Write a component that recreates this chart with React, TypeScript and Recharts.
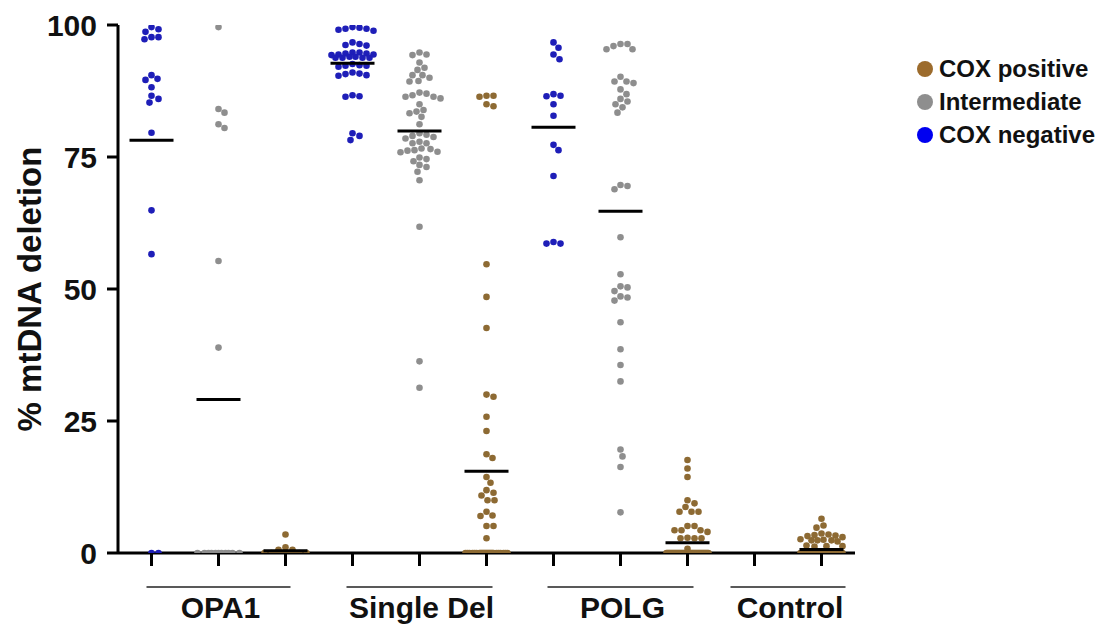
import React from 'react';
import { ScatterChart, Scatter, XAxis, YAxis, Legend } from 'recharts';

// ---- values (% mtDNA deletion per fibre) ----
const OPA1_NEG = [99.6, 99.2, 98.7, 97.7, 97.3, 97.7, 90.5, 89.6, 89.8, 88.2, 86.6, 86.0, 85.3, 79.6, 64.9, 56.6, 0, 0];
const OPA1_INT = [99.6, 84.1, 83.4, 81.2, 80.5, 55.3, 38.9, 0, 0, 0, 0, 0, 0, 0, 0, 0, 0, 0];
const OPA1_POS = [3.5, 1.1, 0.6, 0.6, 0, 0, 0, 0, 0, 0, 0, 0, 0, 0];

const SD_NEG = [
  99.6, 99.3, 98.9, 99.1, 99.3, 99.5, 96.7, 96.2, 96.1, 96.4,
  94.6, 94.8, 94.4, 94.4, 94.6, 94.8, 94.3, 93.8, 94.0, 93.8, 93.8, 94.0, 93.8,
  92.4, 92.3, 92.1, 92.3, 92.6, 91.0, 90.7, 90.4, 90.5, 90.8, 86.4, 86.5, 86.7, 79.5, 78.2, 79.0,
];
const SD_INT = [
  94.8, 94.4, 94.3, 92.9, 91.9, 91.5, 90.5, 90.0, 89.4, 89.3, 90.5, 86.7, 86.4, 87.2, 87.0, 86.1,
  86.4, 85.0, 83.6, 83.3, 83.9, 82.6, 81.2, 79.2, 79.0, 79.5, 78.8, 78.5, 77.6, 77.6, 77.9, 76.5,
  76.3, 76.0, 76.2, 76.6, 75.9, 74.6, 74.9, 74.2, 73.1, 73.5, 72.2, 70.6, 61.8, 36.3, 31.3,
];
const SD_POS = [
  86.6, 86.4, 86.6, 84.6, 85.0, 54.7, 48.5, 42.6, 29.6, 30.0, 25.8, 23.1, 18.7, 18.0, 14.4, 13.3,
  11.9, 10.9, 11.4, 10.0, 10.0, 7.1, 7.0, 7.8, 5.1, 5.1, 2.8,
  0, 0, 0, 0, 0, 0, 0, 0, 0, 0, 0, 0, 0, 0, 0, 0, 0, 0, 0, 0, 0, 0, 0, 0, 0, 0, 0,
];

const POLG_NEG = [96.7, 95.7, 94.4, 93.5, 86.6, 86.5, 86.9, 85.0, 82.8, 77.3, 76.3, 71.4, 58.9, 58.6, 58.6];
const POLG_INT = [
  96.4, 96.0, 95.4, 95.4, 96.4, 90.2, 89.3, 89.0, 89.3, 87.8, 86.9, 86.0, 85.5, 85.0, 84.4, 83.4,
  69.7, 68.9, 69.5, 59.8, 52.8, 50.5, 49.6, 50.3, 48.6, 47.8, 48.4, 43.7, 38.6, 35.6, 32.5,
  19.6, 18.3, 16.3, 7.7,
];
const POLG_POS = [
  17.6, 16.0, 14.4, 10.0, 8.7, 9.4, 7.8, 7.8, 7.8, 4.3, 5.1, 4.3, 4.3, 5.1, 4.0, 2.8, 2.8, 2.8, 2.9, 0.8,
  0, 0, 0, 0, 0, 0, 0, 0, 0, 0, 0, 0, 0, 0, 0, 0, 0, 0, 0, 0, 0, 0, 0, 0, 0, 0,
  0, 0, 0, 0, 0, 0, 0, 0, 0, 0, 0, 0, 0, 0, 0, 0, 0, 0, 0, 0, 0, 0, 0, 0, 0,
];
const CTRL_POS = [
  6.5, 5.2, 4.8, 3.3, 3.0, 3.4, 3.7, 3.2, 3.5, 2.4, 2.4, 2.2, 2.6, 2.4, 2.5, 1.3, 1.3, 1.2, 1.4,
  0, 0, 0, 0, 0, 0, 0, 0, 0, 0, 0, 0, 0, 0, 0, 0, 0, 0, 0, 0, 0, 0, 0, 0, 0, 0, 0, 0, 0, 0, 0, 0, 0, 0,
  0, 0, 0, 0, 0, 0, 0, 0, 0, 0, 0, 0, 0, 0, 0, 0, 0, 0, 0, 0, 0, 0, 0, 0, 0, 0, 0, 0, 0, 0, 0, 0, 0, 0,
];

// ---- categories ----
const GROUPS = ['OPA1', 'Single Del', 'POLG', 'Control'];
// first and last column index of each group on the x axis
const GROUP_COLUMNS = [[0, 2], [3, 5], [6, 8], [9, 10]];
const SERIES_NAMES = ['COX positive', 'Intermediate', 'COX negative'];
const Y_TICKS = [0, 25, 50, 75, 100];
const X_COLUMNS = [0, 1, 2, 3, 4, 5, 6, 7, 8, 9, 10];

// which column each set of values sits in
const NEG_COLUMNS: [number, number[]][] = [[0, OPA1_NEG], [3, SD_NEG], [6, POLG_NEG]];
const INT_COLUMNS: [number, number[]][] = [[1, OPA1_INT], [4, SD_INT], [7, POLG_INT]];
const POS_COLUMNS: [number, number[]][] = [[2, OPA1_POS], [5, SD_POS], [8, POLG_POS], [10, CTRL_POS]];

// ---- layout / style ----
const WIDTH = 1103;
const HEIGHT = 625;
const MARGIN = { top: 25, right: 248, bottom: 58, left: 18 };
const Y_AXIS_W = 100;
const X_AXIS_H = 14;
const PLOT_H = HEIGHT - MARGIN.top - MARGIN.bottom - X_AXIS_H;
const PLOT_W = WIDTH - MARGIN.left - MARGIN.right - Y_AXIS_W;
const COL_COUNT = X_COLUMNS.length;
const COL_W = PLOT_W / COL_COUNT;
const PX_PER_UNIT = PLOT_H / 100;
const DOT_R = 3.3;
const DOT_GAP = 7;
const SWARM_HALF = 21;
const MEAN_HALF = 22;
const UNDERLINE_PAD = [5, 6, 6, 24];
const FONT = '"Liberation Sans", Arial, Helvetica, sans-serif';

const COLORS = {
  pos: '#8d6a33',
  int: '#8e8e8e',
  neg: '#1e1eb8',
};
const LEGEND_COLORS = ['#9c6b2c', '#8e8e8e', '#0000f0'];

type Pt = { x: number; y: number; dx: number };

// Beeswarm placement of one column: dots are pushed sideways until they
// stop overlapping, within a fixed half-width; past that they pile up.
function swarm(col: number, values: number[]): Pt[] {
  const order = values.map((v, i) => ({ v, i })).sort((a, b) => b.v - a.v);
  const placed: { dx: number; py: number }[] = [];
  const out: Pt[] = new Array(values.length);
  for (const { v, i } of order) {
    const py = v * PX_PER_UNIT;
    let best = 0;
    let bestD = -1;
    for (let k = 0; k <= 2 * SWARM_HALF; k++) {
      const dx = k === 0 ? 0 : k % 2 === 1 ? (k + 1) / 2 : -k / 2;
      let minD = Infinity;
      for (const p of placed) {
        const d = Math.hypot(p.dx - dx, p.py - py);
        if (d < minD) minD = d;
      }
      if (minD >= DOT_GAP) {
        best = dx;
        bestD = Infinity;
        break;
      }
      if (minD > bestD) {
        bestD = minD;
        best = dx;
      }
    }
    placed.push({ dx: best, py });
    out[i] = { x: col, y: v, dx: best };
  }
  return out;
}

const buildSeries = (cols: [number, number[]][]) => cols.flatMap(([c, vals]) => swarm(c, vals));
const negData = buildSeries(NEG_COLUMNS);
const intData = buildSeries(INT_COLUMNS);
const posData = buildSeries(POS_COLUMNS);

const mean = (a: number[]) => a.reduce((s, v) => s + v, 0) / a.length;
const meanData = [...NEG_COLUMNS, ...INT_COLUMNS, ...POS_COLUMNS].map(([c, vals]) => ({ x: c, y: mean(vals) }));

const makeDot = (color: string) => (props: any) => {
  const { cx, cy, payload } = props;
  if (cx == null || cy == null) return <g />;
  return <circle cx={cx + (payload?.dx ?? 0)} cy={cy} r={DOT_R} fill={color} />;
};

const MeanBar = (props: any) => {
  const { cx, cy } = props;
  if (cx == null || cy == null) return <g />;
  return <line x1={cx - MEAN_HALF} x2={cx + MEAN_HALF} y1={cy} y2={cy} stroke="#000" strokeWidth={3} />;
};

// Column tick: at the first column of each group, also draw the group's
// underline and name beneath the axis.
const ColumnTick = (props: any) => {
  const { x, y, payload } = props;
  const gi = GROUP_COLUMNS.findIndex(([a]) => a === payload?.value);
  if (gi < 0) return <g />;
  const [a, b] = GROUP_COLUMNS[gi];
  const center = x + ((b - a) / 2) * COL_W;
  const half = ((b - a) / 2) * COL_W + UNDERLINE_PAD[gi];
  return (
    <g>
      <line x1={center - half} x2={center + half} y1={y + 21} y2={y + 21} stroke="#222" strokeWidth={1.5} />
      <text
        x={center + 2}
        y={y + 52}
        textAnchor="middle"
        fontFamily={FONT}
        fontWeight="bold"
        fontSize={30}
        fill="#111"
      >
        {GROUPS[gi]}
      </text>
    </g>
  );
};

const LegendBox = () => (
  <div style={{ fontFamily: FONT, fontWeight: 'bold', fontSize: 24, color: '#111' }}>
    {SERIES_NAMES.map((name, i) => (
      <div key={name} style={{ display: 'flex', alignItems: 'center', height: 33, whiteSpace: 'nowrap' }}>
        <span
          style={{
            display: 'inline-block',
            width: 16,
            height: 16,
            borderRadius: '50%',
            background: LEGEND_COLORS[i],
            marginRight: 6,
          }}
        />
        {name}
      </div>
    ))}
  </div>
);

const YLabel = (props: any) => {
  const vb = props.viewBox || {};
  const cx = (vb.x ?? 0) + 11;
  const cy = (vb.y ?? 0) + (vb.height ?? 0) / 2;
  return (
    <text
      x={cx}
      y={cy}
      transform={`rotate(-90 ${cx} ${cy})`}
      textAnchor="middle"
      dominantBaseline="central"
      fontFamily={FONT}
      fontWeight="bold"
      fontSize={33}
      fill="#111"
    >
      % mtDNA deletion
    </text>
  );
};

export default function App() {
  return (
    <div style={{ width: WIDTH, height: HEIGHT, background: '#fff' }}>
      <style>{'html,body{margin:0;padding:0;overflow:hidden;background:#fff}'}</style>
      <ScatterChart width={WIDTH} height={HEIGHT} margin={MARGIN}>
        <XAxis
          type="number"
          dataKey="x"
          domain={[-0.5, COL_COUNT - 0.5]}
          ticks={X_COLUMNS}
          interval={0}
          allowDataOverflow
          height={X_AXIS_H}
          tick={<ColumnTick />}
          tickSize={13}
          tickMargin={0}
          axisLine={{ stroke: '#000', strokeWidth: 3 }}
          tickLine={{ stroke: '#000', strokeWidth: 3 }}
        />
        <YAxis
          type="number"
          dataKey="y"
          domain={[0, 100]}
          ticks={Y_TICKS}
          allowDataOverflow
          width={Y_AXIS_W}
          tickSize={11}
          tickMargin={10}
          axisLine={{ stroke: '#000', strokeWidth: 3 }}
          tickLine={{ stroke: '#000', strokeWidth: 3 }}
          tick={{ fontFamily: FONT, fontWeight: 'bold', fontSize: 30, fill: '#111' }}
          label={<YLabel />}
        />
        <Scatter name="COX negative" data={negData} shape={makeDot(COLORS.neg)} isAnimationActive={false} />
        <Scatter name="Intermediate" data={intData} shape={makeDot(COLORS.int)} isAnimationActive={false} />
        <Scatter name="COX positive" data={posData} shape={makeDot(COLORS.pos)} isAnimationActive={false} />
        <Scatter name="mean" data={meanData} shape={<MeanBar />} legendType="none" isAnimationActive={false} />
        <Legend
          layout="vertical"
          align="center"
          verticalAlign="middle"
          content={<LegendBox />}
          wrapperStyle={{ position: 'absolute', left: 917, top: 52, width: 186 }}
        />
      </ScatterChart>
    </div>
  );
}
